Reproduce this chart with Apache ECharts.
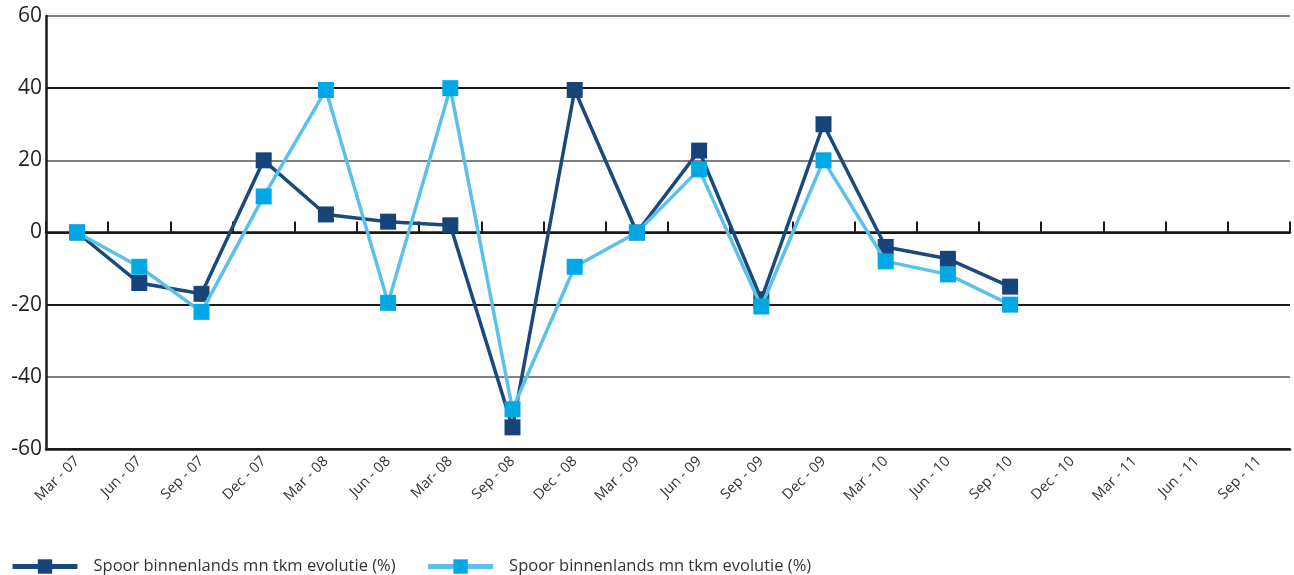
<!DOCTYPE html>
<html><head><meta charset="utf-8">
<script src="https://cdn.jsdelivr.net/npm/echarts@6/dist/echarts.min.js"></script>
<style>html,body{margin:0;padding:0;background:#fff}#c{width:1294px;height:575px}</style>
</head><body><div id="c"></div>
<script>
const categories = ["Mar - 07","Jun - 07","Sep - 07","Dec - 07","Mar - 08","Jun - 08","Mar- 08","Sep - 08","Dec - 08","Mar - 09","Jun - 09","Sep - 09","Dec - 09","Mar - 10","Jun - 10","Sep - 10","Dec - 10","Mar - 11","Jun - 11","Sep - 11"];
const seriesDark = [0,-14,-17,20,5,3,2,-54,39.5,0,22.7,-18.5,30,-4,-7.3,-15,null,null,null,null];
const seriesLight = [0,-9.5,-22,10,39.5,-19.5,40,-49,-9.5,0,17.5,-20.5,20,-8,-11.6,-20,null,null,null,null];
const seriesName = "Spoor binnenlands mn tkm evolutie (%)";
const yTicks = {min:-60, max:60, interval:20};

const chart = echarts.init(document.getElementById('c'), null, {renderer:'canvas'});
const font = "'Open Sans', 'Noto Sans', sans-serif";
chart.setOption({
  animation:false,
  grid:{left:46, right:4, top:16, bottom:126, containLabel:false},
  legend:{
    left:5, top:553, itemWidth:65, itemHeight:18, itemGap:30,
    lineStyle:{width:5},
    textStyle:{fontFamily:font, fontSize:16.5, color:'#333', padding:[0,0,0,11]},
    data:[seriesName, seriesName + '\u200b']
  },
  xAxis:[{
    type:'category', data:categories, boundaryGap:true,
    axisLine:{onZero:false, lineStyle:{color:'#1a1a1a', width:2.5}},
    axisTick:{show:false},
    axisLabel:{rotate:45, interval:0, fontFamily:font, fontSize:14.5, color:'#333', margin:10, padding:[0,0,0,0]}
  },{
    type:'category', data:categories, boundaryGap:true, position:'bottom',
    axisLine:{onZero:true, lineStyle:{color:'#1a1a1a', width:2.5}},
    axisTick:{show:true, inside:true, length:11, lineStyle:{color:'#1a1a1a', width:2}},
    axisLabel:{show:false}
  }],
  yAxis:{
    type:'value', min:yTicks.min, max:yTicks.max, interval:yTicks.interval,
    axisLine:{show:true, lineStyle:{color:'#1a1a1a', width:2.5}},
    axisTick:{show:false},
    axisLabel:{fontFamily:font, fontSize:21, color:'#231f20', margin:4},
    splitLine:{show:true, lineStyle:{color:['#1a1a1a','#808080','#1a1a1a','#1a1a1a','#808080','#1a1a1a','#808080'], width:2}}
  },
  series:[{
    name:seriesName, type:'line', data:seriesDark, xAxisIndex:0,
    symbol:'rect', symbolSize:16, showAllSymbol:true,
    itemStyle:{color:'#17457a'}, lineStyle:{color:'#1a4a7c', width:3.5}, z:2
  },{
    name:seriesName + '\u200b', type:'line', data:seriesLight, xAxisIndex:0,
    symbol:'rect', symbolSize:16, showAllSymbol:true,
    itemStyle:{color:'#00a9e6'}, lineStyle:{color:'#5bc0ea', width:3.5}, z:3
  }]
});
</script></body></html>
